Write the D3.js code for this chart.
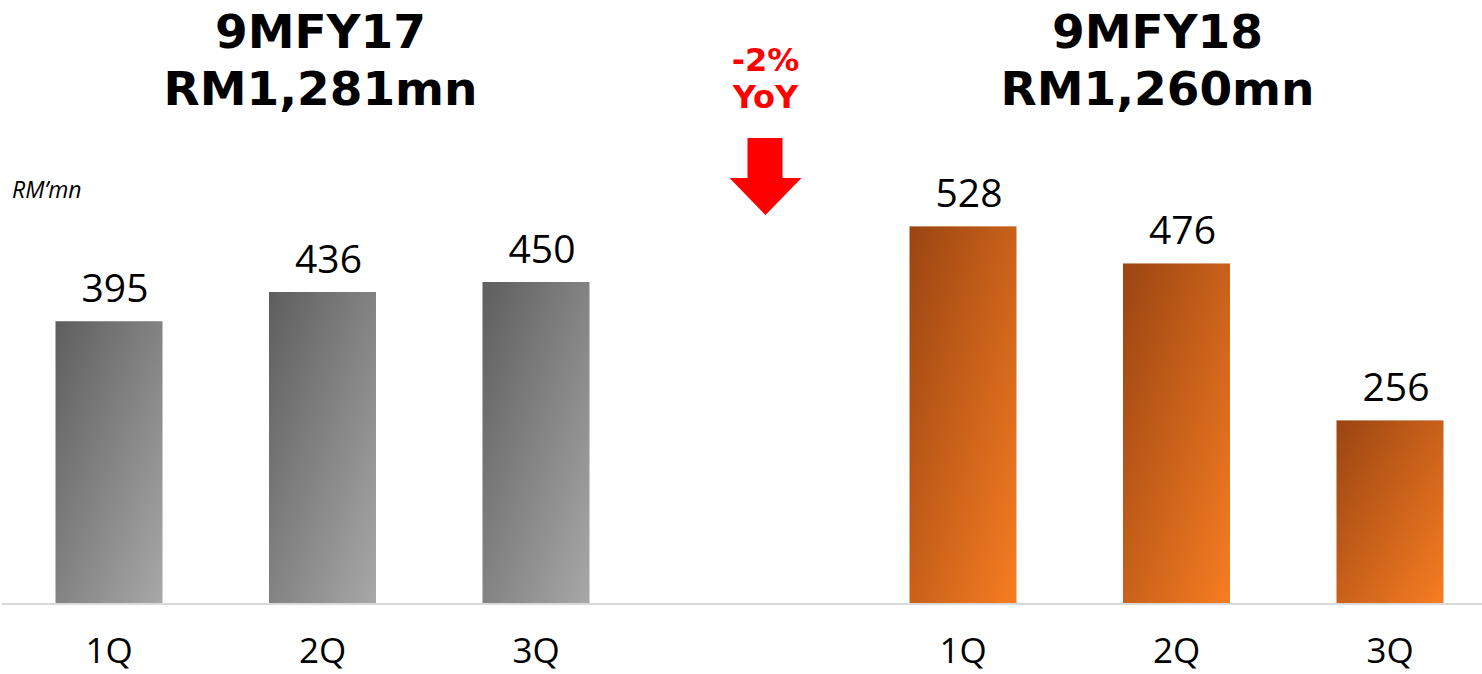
<!DOCTYPE html>
<html>
<head>
<meta charset="utf-8">
<script src="https://cdn.jsdelivr.net/npm/d3@7"></script>
<style>
  body { margin: 0; background: #fff; }
  text { font-family: "Open Sans", "DejaVu Sans", sans-serif; }
  .bold { font-family: Verdana, "DejaVu Sans", sans-serif; font-weight: bold; }
</style>
</head>
<body>
<div id="chart"></div>
<script>
// data
var quarters = ["1Q", "2Q", "3Q"];
var fy17Values = [395, 436, 450];
var fy18Values = [528, 476, 256];
var periodTitles = ["9MFY17", "9MFY18"];
var periodTotals = ["RM1,281mn", "RM1,260mn"];
var changeLabel = ["-2%", "YoY"];
var unitLabel = "RM\u2019mn";

var width = 1482, height = 674;

var svg = d3.select("#chart")
    .append("svg")
    .attr("width", width)
    .attr("height", height);

// gradients for the two periods
var defs = svg.append("defs");
function addGradient(id, from, to) {
    var g = defs.append("linearGradient")
        .attr("id", id)
        .attr("x1", 0).attr("y1", 0)
        .attr("x2", 1).attr("y2", 1);
    g.append("stop").attr("offset", "0%").attr("stop-color", from);
    g.append("stop").attr("offset", "100%").attr("stop-color", to);
}
addGradient("gradGrey", "#5e5e5e", "#a8a8a8");
addGradient("gradOrange", "#9a4512", "#f77d22");

// 7 slots: three quarters, a gap, three quarters
var slots = ["a1", "a2", "a3", "gap", "b1", "b2", "b3"];
var data = [];
quarters.forEach(function(q, i) {
    data.push({slot: slots[i], label: q, value: fy17Values[i], grad: "gradGrey"});
});
quarters.forEach(function(q, i) {
    data.push({slot: slots[i + 4], label: q, value: fy18Values[i], grad: "gradOrange"});
});

var xScale = d3.scalePoint().domain(slots).range([109, 1390]);
var barWidth = 107;
var yScale = d3.scaleLinear().domain([0, 600]).range([603, 175]);

// baseline
svg.append("line")
    .attr("x1", 2).attr("x2", width)
    .attr("y1", yScale(0) + 1).attr("y2", yScale(0) + 1)
    .attr("stroke", "#d9d9d9")
    .attr("stroke-width", 2);

// bars
svg.selectAll(".bar")
    .data(data)
    .enter().append("rect")
    .attr("class", "bar")
    .attr("x", function(d) { return xScale(d.slot) - barWidth / 2; })
    .attr("y", function(d) { return yScale(d.value); })
    .attr("width", barWidth)
    .attr("height", function(d) { return yScale(0) - yScale(d.value); })
    .attr("fill", function(d) { return "url(#" + d.grad + ")"; });

// value labels
svg.selectAll(".val")
    .data(data)
    .enter().append("text")
    .attr("class", "val")
    .attr("x", function(d) { return xScale(d.slot) + 6; })
    .attr("y", function(d) { return yScale(d.value) - 19; })
    .attr("text-anchor", "middle")
    .attr("font-size", 39)
    .attr("fill", "#000")
    .text(function(d) { return d.value; });

// category labels
svg.selectAll(".cat")
    .data(data)
    .enter().append("text")
    .attr("class", "cat")
    .attr("x", function(d) { return xScale(d.slot); })
    .attr("y", 663)
    .attr("text-anchor", "middle")
    .attr("font-size", 35)
    .attr("fill", "#000")
    .text(function(d) { return d.label; });

// period titles
var titleX = [xScale("a2") - 2, xScale("b2") - 19];
periodTitles.forEach(function(t, i) {
    var txt = svg.append("text")
        .attr("class", "bold")
        .attr("x", titleX[i])
        .attr("text-anchor", "middle")
        .attr("font-size", 47)
        .attr("fill", "#000");
    txt.append("tspan").attr("x", titleX[i]).attr("y", 48).text(t);
    txt.append("tspan").attr("x", titleX[i]).attr("y", 105).text(periodTotals[i]);
});

// unit label
svg.append("text")
    .attr("x", 12)
    .attr("y", 198)
    .attr("font-size", 23)
    .attr("font-style", "italic")
    .attr("fill", "#000")
    .text(unitLabel);

// yoy change
var arrowX = xScale("gap") + 16;
changeLabel.forEach(function(t, i) {
    svg.append("text")
        .attr("class", "bold")
        .attr("x", arrowX)
        .attr("y", 71 + i * 37)
        .attr("text-anchor", "middle")
        .attr("font-size", 32)
        .attr("fill", "#ff0000")
        .text(t);
});

// down arrow
var arrow = [
    [arrowX - 18, 138], [arrowX + 17, 138], [arrowX + 17, 178],
    [arrowX + 36, 178], [arrowX, 215], [arrowX - 36, 178], [arrowX - 18, 178]
];
svg.append("path")
    .attr("d", d3.line()(arrow) + "Z")
    .attr("fill", "#ff0000");
</script>
</body>
</html>
